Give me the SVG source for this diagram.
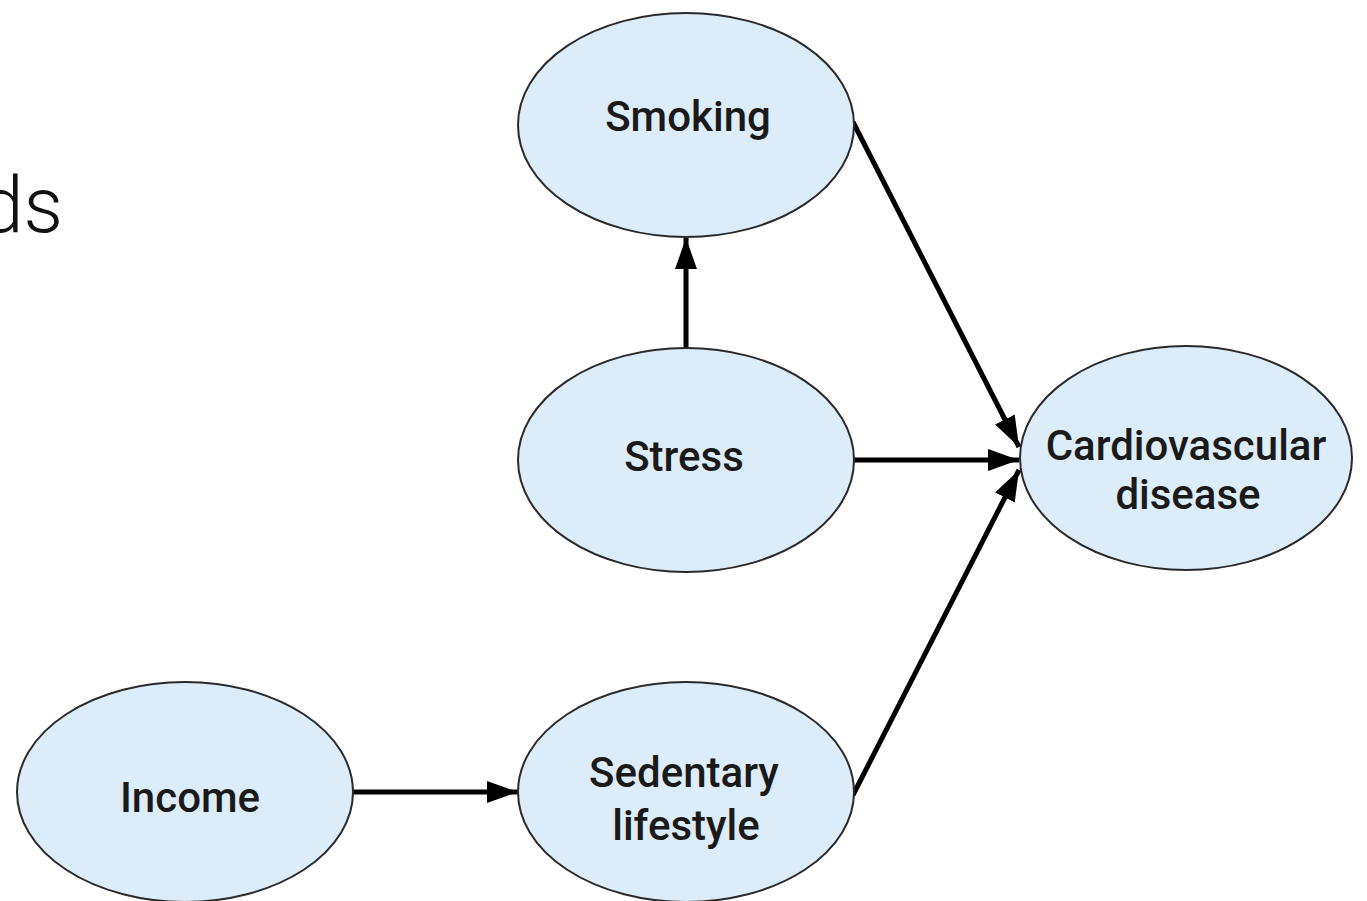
<svg xmlns="http://www.w3.org/2000/svg" width="1367" height="901" viewBox="0 0 1367 901">
<style>
.node ellipse{fill:#dcecf8;stroke:#2a2a2a;stroke-width:2}
.node text{font-family:Roboto,"Liberation Sans",sans-serif;font-size:42px;font-weight:500;fill:#1a1a1a;text-anchor:middle}
.edge{stroke:#000;stroke-width:5;fill:none;marker-end:url(#arr)}
</style>
<defs>
<marker id="arr" markerUnits="userSpaceOnUse" markerWidth="34" markerHeight="24" refX="31" refY="11" orient="auto">
<path d="M0,0 L31,11 L0,22 z" fill="#000"/>
</marker>
</defs>
<rect width="1367" height="901" fill="#fff"/>
<text x="63" y="232" font-family="Roboto,'Liberation Sans',sans-serif" font-weight="300" font-size="78" text-anchor="end" fill="#111">ds</text>
<g id="connectors">
<line class="edge" x1="686" y1="348" x2="686" y2="238"/>
<line class="edge" x1="853" y1="122" x2="1019" y2="447"/>
<line class="edge" x1="853" y1="460" x2="1019" y2="460"/>
<line class="edge" x1="853" y1="795" x2="1019" y2="470"/>
<line class="edge" x1="352" y1="792" x2="518" y2="792"/>
</g>
<g id="smoking" class="node"><ellipse cx="686" cy="125" rx="168" ry="112"/><text x="688" y="131">Smoking</text></g>
<g id="stress" class="node"><ellipse cx="686" cy="460" rx="168" ry="112"/><text x="684" y="471">Stress</text></g>
<g id="cvd" class="node"><ellipse cx="1186" cy="458" rx="166" ry="112"/><text x="1186" y="460">Cardiovascular</text><text x="1188" y="509">disease</text></g>
<g id="income" class="node"><ellipse cx="185" cy="792" rx="168" ry="110"/><text x="190" y="812">Income</text></g>
<g id="sedentary" class="node"><ellipse cx="686" cy="792" rx="168" ry="110"/><text x="684" y="787">Sedentary</text><text x="686" y="840">lifestyle</text></g>
</svg>
